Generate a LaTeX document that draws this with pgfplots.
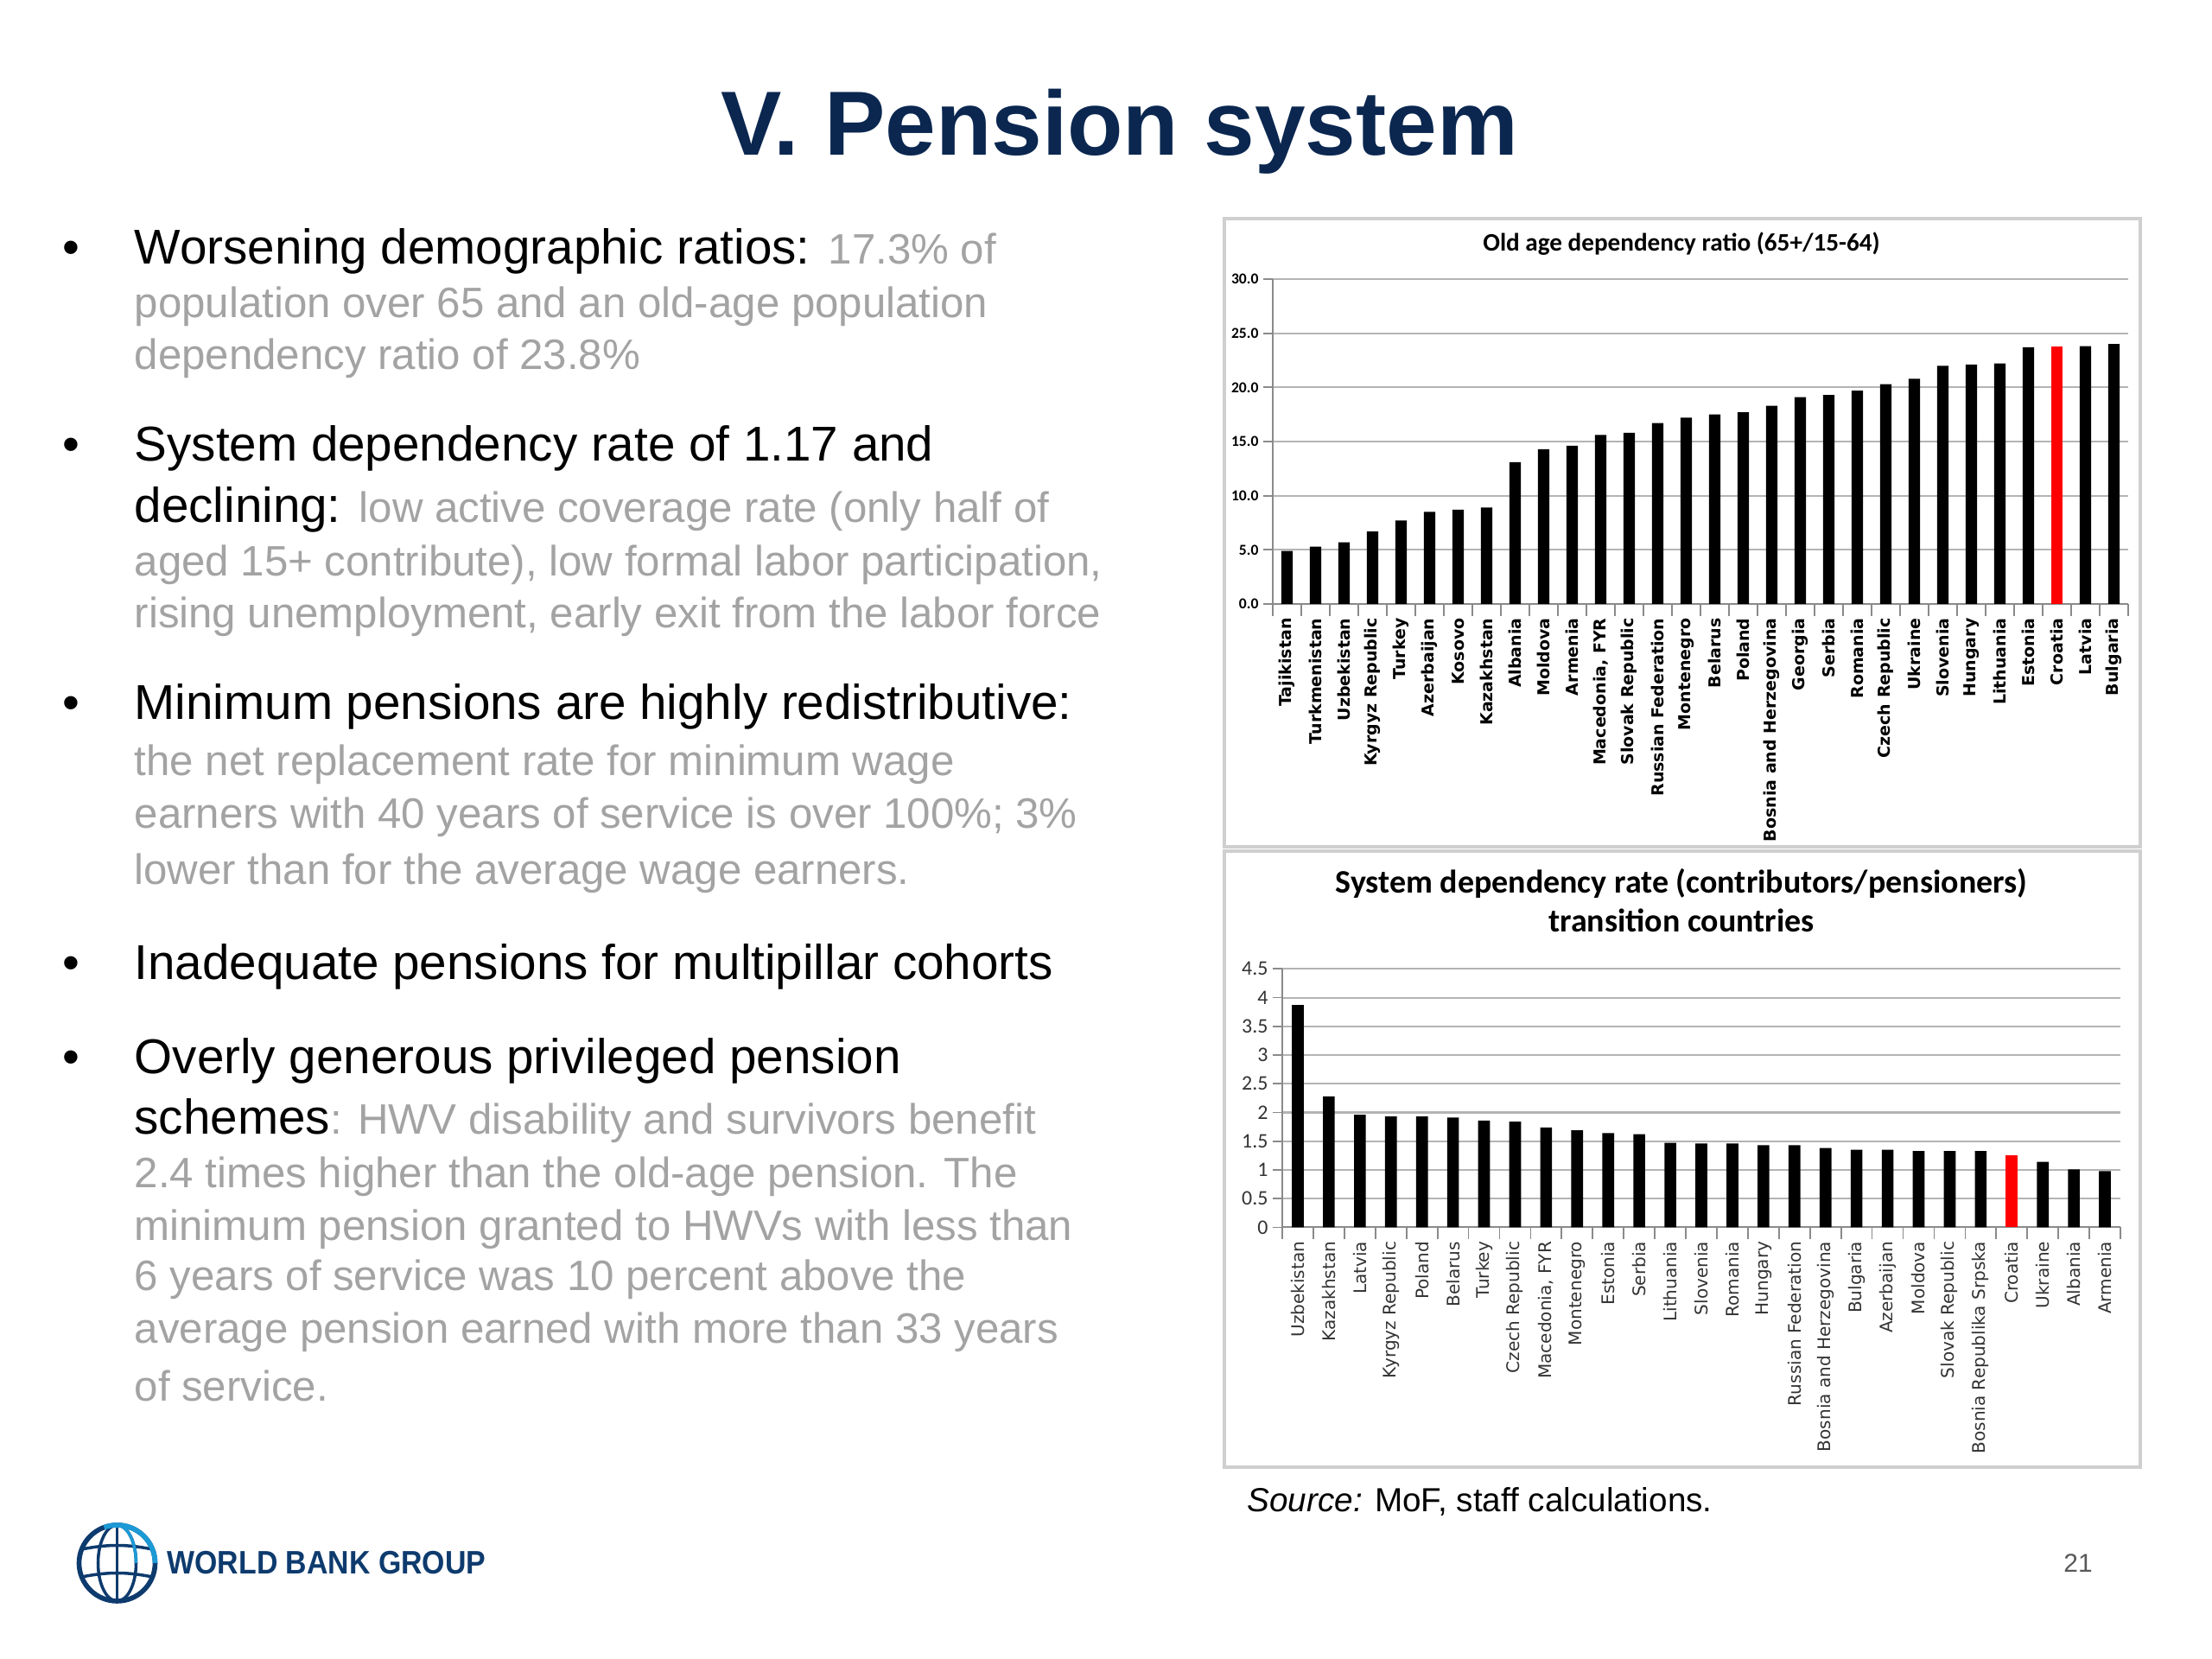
\documentclass[border=0pt]{standalone}
\usepackage{fontspec}
\usepackage{pgfplots}
\pgfplotsset{compat=1.18}
\setmainfont{Liberation Sans}
\newfontfamily\carlito{Carlito}
\newfontfamily\dejavu{DejaVu Sans}
\definecolor{navy}{HTML}{0B2750}
\definecolor{txtgray}{HTML}{A3A3A3}
\definecolor{gridgray}{HTML}{B4B4B4}
\definecolor{axgray}{HTML}{8A8A8A}
\definecolor{boxgray}{HTML}{CFCFCF}
\definecolor{logoblue}{HTML}{1C9AD6}
\definecolor{logonavy}{HTML}{0E3B6E}
\definecolor{lab}{HTML}{333333}
\newcommand{\B}[1]{{\fontsize{16.1}{19}\selectfont\color{black}#1}}
\newcommand{\G}[1]{{\fontsize{14}{17}\selectfont\color{txtgray}#1}}
\begin{document}
\begin{tikzpicture}
\fill[white] (0,0) rectangle (25.6,19.2);
\useasboundingbox (0,0) rectangle (25.6,19.2);
% title
\node[anchor=base, inner sep=0, text=navy, font=\bfseries\fontsize{30}{34}\selectfont] at (12.96,17.404) {V. Pension system};
% bullets
\tikzset{ln/.style={anchor=base west, inner sep=0, font=\fontsize{16.1}{19}\selectfont},
         bu/.style={anchor=base, inner sep=0, font=\fontsize{16.1}{19}\selectfont}}
\foreach \y in {16.147,13.861,10.873,7.869,6.775} {\node[bu] at (0.82,\y) {•};}
\node[ln] at (1.55,16.147) {\B{Worsening demographic ratios:} \G{17.3\% of}};
\node[ln] at (1.55,15.527) {\G{population over 65 and an old-age population}};
\node[ln] at (1.55,14.922) {\G{dependency ratio of 23.8\%}};
\node[ln] at (1.55,13.861) {\B{System dependency rate of 1.17 and}};
\node[ln] at (1.55,13.159) {\B{declining:} \G{low active coverage rate (only half of}};
\node[ln] at (1.55,12.539) {\G{aged 15+ contribute), low formal labor participation,}};
\node[ln] at (1.55,11.935) {\G{rising unemployment, early exit from the labor force}};
\node[ln] at (1.55,10.873) {\B{Minimum pensions are highly redistributive:}};
\node[ln] at (1.55,10.220) {\G{the net replacement rate for minimum wage}};
\node[ln] at (1.55,9.616) {\G{earners with 40 years of service is over 100\%; 3\%}};
\node[ln] at (1.55,8.963) {\G{lower than for the average wage earners.}};
\node[ln] at (1.55,7.869) {\B{Inadequate pensions for multipillar cohorts}};
\node[ln] at (1.55,6.775) {\B{Overly generous privileged pension}};
\node[ln] at (1.55,6.073) {\B{schemes}\G{: HWV disability and survivors benefit}};
\node[ln] at (1.55,5.453) {\G{2.4 times higher than the old-age pension. The}};
\node[ln] at (1.55,4.849) {\G{minimum pension granted to HWVs with less than}};
\node[ln] at (1.55,4.261) {\G{6 years of service was 10 percent above the}};
\node[ln] at (1.55,3.657) {\G{average pension earned with more than 33 years}};
\node[ln] at (1.55,2.987) {\G{of service.}};
% chart boxes
\draw[boxgray, line width=0.9pt] (14.17,9.40) rectangle (24.77,16.67);
\draw[boxgray, line width=0.9pt] (14.17,2.22) rectangle (24.77,9.35);
% top chart
\node[anchor=base, inner sep=0, font=\carlito\bfseries\fontsize{8.3}{10}\selectfont] at (19.46,16.294) {Old age dependency ratio (65+/15-64)};
\begin{axis}[
 at={(14.73cm,12.21cm)}, anchor=south west,
 scale only axis, width=9.90cm, height=3.76cm,
 ymin=0, ymax=30, xmin=-0.5, xmax=29.5,
 axis x line*=bottom, axis y line*=left,
 axis line style={axgray, line width=0.6pt},
 ymajorgrids, grid style={gridgray, line width=0.6pt},
 ytick={0,5,10,15,20,25,30}, yticklabels={0.0,5.0,10.0,15.0,20.0,25.0,30.0},
 yticklabel style={font=\carlito\bfseries\fontsize{5}{6}\selectfont, inner sep=1.5pt},
 xtick={0,...,29},
 xticklabels={Tajikistan,Turkmenistan,Uzbekistan,Kyrgyz Republic,Turkey,Azerbaijan,Kosovo,Kazakhstan,Albania,Moldova,Armenia,{Macedonia, FYR},Slovak Republic,Russian Federation,Montenegro,Belarus,Poland,Bosnia and Herzegovina,Georgia,Serbia,Romania,Czech Republic,Ukraine,Slovenia,Hungary,Lithuania,Estonia,Croatia,Latvia,Bulgaria},
 xticklabel style={rotate=90, anchor=east, font=\dejavu\bfseries\fontsize{5.4}{6}\selectfont, inner sep=1.5pt},
 minor xtick={-0.5,0.5,...,29.5},
 tick align=outside,
 major x tick style={draw=none},
 minor x tick style={axgray, line width=0.5pt},
 y tick style={axgray, line width=0.5pt},
 major tick length=3pt, minor tick length=4pt,
]
\addplot[ybar, bar shift=0pt, bar width=0.4, fill=black, draw=none] coordinates {
(0,4.9) (1,5.3) (2,5.7) (3,6.7) (4,7.7) (5,8.5) (6,8.7) (7,8.9) (8,13.1) (9,14.3)
(10,14.6) (11,15.6) (12,15.8) (13,16.7) (14,17.2) (15,17.5) (16,17.7) (17,18.3) (18,19.1) (19,19.3)
(20,19.7) (21,20.3) (22,20.8) (23,22.0) (24,22.1) (25,22.2) (26,23.7) (28,23.8) (29,24.0)};
\addplot[ybar, bar shift=0pt, bar width=0.4, fill=red, draw=none] coordinates {(27,23.8)};
\end{axis}
% bottom chart
\node[anchor=base, inner sep=0, font=\carlito\bfseries\fontsize{10.8}{13}\selectfont] at (19.46,8.865) {System dependency rate (contributors/pensioners)};
\node[anchor=base, inner sep=0, font=\carlito\bfseries\fontsize{10.8}{13}\selectfont] at (19.46,8.41) {transition countries};
\begin{axis}[
 at={(14.84cm,4.996cm)}, anchor=south west,
 scale only axis, width=9.70cm, height=2.99cm,
 ymin=0, ymax=4.5, xmin=-0.5, xmax=26.5,
 axis x line*=bottom, axis y line*=left,
 axis line style={axgray, line width=0.6pt},
 ymajorgrids, grid style={gridgray, line width=0.6pt},
 ytick={0,0.5,1,1.5,2,2.5,3,3.5,4,4.5}, yticklabels={0,0.5,1,1.5,2,2.5,3,3.5,4,4.5},
 yticklabel style={font=\carlito\fontsize{6.8}{8}\selectfont, text=lab, inner sep=1.5pt},
 xtick={0,...,26},
 xticklabels={Uzbekistan,Kazakhstan,Latvia,Kyrgyz Republic,Poland,Belarus,Turkey,Czech Republic,{Macedonia, FYR},Montenegro,Estonia,Serbia,Lithuania,Slovenia,Romania,Hungary,Russian Federation,Bosnia and Herzegovina,Bulgaria,Azerbaijan,Moldova,Slovak Republic,Bosnia Republika Srpska,Croatia,Ukraine,Albania,Armenia},
 xticklabel style={rotate=90, anchor=east, font=\dejavu\fontsize{5.7}{6.5}\selectfont, text=lab, inner sep=1.5pt},
 minor xtick={-0.5,0.5,...,26.5},
 tick align=outside,
 major x tick style={draw=none},
 minor x tick style={axgray, line width=0.5pt},
 y tick style={axgray, line width=0.5pt},
 major tick length=3pt, minor tick length=4pt,
]
\addplot[ybar, bar shift=0pt, bar width=0.38, fill=black, draw=none] coordinates {
(0,3.87) (1,2.28) (2,1.96) (3,1.93) (4,1.93) (5,1.91) (6,1.86) (7,1.84) (8,1.74) (9,1.69)
(10,1.64) (11,1.62) (12,1.47) (13,1.46) (14,1.46) (15,1.43) (16,1.43) (17,1.38) (18,1.35) (19,1.35)
(20,1.33) (21,1.33) (22,1.33) (24,1.14) (25,1.01) (26,0.98)};
\addplot[ybar, bar shift=0pt, bar width=0.38, fill=red, draw=none] coordinates {(23,1.25)};
\end{axis}
% source
\node[anchor=base west, inner sep=0, font=\fontsize{11}{13}\selectfont] at (14.43,1.70) {\textit{Source:} MoF, staff calculations.};
% page number
\node[anchor=base, inner sep=0, text=black!65, font=\fontsize{8.5}{10}\selectfont] at (24.05,1.0) {21};
% logo
\begin{scope}[shift={(1.355,1.11)}]
\draw[logonavy, line width=1.6pt] (0,0) circle (0.44);
\draw[logonavy, line width=1pt] (0,-0.44) -- (0,0.44);
\draw[logonavy, line width=1pt] (0,0) ellipse (0.22 and 0.44);
\draw[logonavy, line width=1pt] (-0.41,0.16) .. controls (-0.1,0.22) and (0.1,0.22) .. (0.41,0.16);
\draw[logonavy, line width=1pt] (-0.41,-0.16) .. controls (-0.1,-0.10) and (0.1,-0.10) .. (0.41,-0.16);
\draw[logoblue, line width=1.6pt] (0.44,0) arc (0:110:0.44);
\draw[logoblue, line width=1pt] (0.22,0) arc (0:90:0.22 and 0.44);
\end{scope}
\node[anchor=base west, inner sep=0, text=logonavy, font=\bfseries\fontsize{10.7}{12}\selectfont] at (1.93,0.98) {\scalebox{0.9}[1]{WORLD BANK GROUP}};
\end{tikzpicture}
\end{document}
